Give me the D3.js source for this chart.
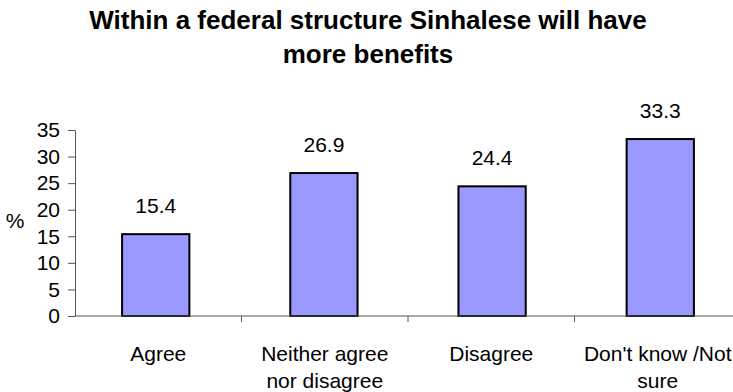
<!DOCTYPE html>
<html>
<head>
<meta charset="utf-8">
<script src="https://cdn.jsdelivr.net/npm/d3@7"></script>
<style>
  html, body { margin: 0; padding: 0; background: #fff; }
  svg { display: block; font-family: Arial, "Liberation Sans", sans-serif; }
</style>
</head>
<body>
<svg id="chart" width="733" height="392"></svg>
<script>
// Survey responses (% of respondents)
const categories = [["Agree"], ["Neither agree", "nor disagree"], ["Disagree"], ["Don't know /Not", "sure"]];
const values = [15.4, 26.9, 24.4, 33.3];
const yTicks = [0, 5, 10, 15, 20, 25, 30, 35];
const titleLines = ["Within a federal structure Sinhalese will have", "more benefits"];

const svg = d3.select("#chart");
const plotLeft = 75, plotRight = 741, plotTop = 130, plotBottom = 316;
const labelSize = "21px";

const x = d3.scaleBand().domain(d3.range(values.length)).range([plotLeft, plotRight]).paddingInner(0.6).paddingOuter(0.28);
const xTickScale = d3.scaleBand().domain(d3.range(values.length)).range([plotLeft, plotRight]);
const y = d3.scaleLinear().domain([0, 35]).range([plotBottom, plotTop]);

// Title
svg.append("text")
  .attr("x", 368).attr("y", 29)
  .attr("text-anchor", "middle")
  .style("font-size", "26px").style("font-weight", "bold")
  .selectAll("tspan").data(titleLines).join("tspan")
  .attr("x", 368).attr("dy", (d, i) => i === 0 ? 0 : 34)
  .text(d => d);

// Bars
svg.append("g").selectAll("rect").data(values).join("rect")
  .attr("x", (d, i) => x(i))
  .attr("y", d => y(d))
  .attr("width", x.bandwidth())
  .attr("height", d => y(0) - y(d))
  .attr("fill", "#9999ff")
  .attr("stroke", "#000")
  .attr("stroke-width", 2);

// Value labels
svg.append("g").selectAll("text").data(values).join("text")
  .attr("x", (d, i) => x(i) + x.bandwidth() / 2)
  .attr("y", d => y(d) - 21)
  .attr("text-anchor", "middle")
  .style("font-size", labelSize)
  .text(d => d.toFixed(1));

// Y axis
const yAxis = svg.append("g").attr("transform", `translate(${plotLeft},0)`)
  .call(d3.axisLeft(y).tickValues(yTicks).tickSize(7).tickSizeOuter(0).tickPadding(8));
yAxis.select(".domain").attr("stroke", "#555");
yAxis.selectAll(".tick line").attr("stroke", "#555");
yAxis.selectAll(".tick text").style("font-size", labelSize)
  .style("font-family", "Arial, 'Liberation Sans', sans-serif").attr("fill", "#000");

// Y axis label
svg.append("text").attr("x", 15).attr("y", 228).attr("text-anchor", "middle")
  .style("font-size", labelSize).text("%");

// X axis line and category boundary ticks
svg.append("line").attr("x1", plotLeft).attr("x2", plotRight).attr("y1", plotBottom).attr("y2", plotBottom)
  .attr("stroke", "#555");
svg.append("g").selectAll("line").data(d3.range(1, values.length)).join("line")
  .attr("x1", i => xTickScale(i)).attr("x2", i => xTickScale(i))
  .attr("y1", plotBottom).attr("y2", plotBottom + 6).attr("stroke", "#555");

// Category labels
svg.append("g").selectAll("text").data(categories).join("text")
  .attr("x", (d, i) => xTickScale(i) + xTickScale.bandwidth() / 2)
  .attr("y", 361)
  .attr("text-anchor", "middle")
  .style("font-size", labelSize)
  .each(function(lines) {
    d3.select(this).selectAll("tspan").data(lines).join("tspan")
      .attr("x", d3.select(this).attr("x"))
      .attr("dy", (d, i) => i === 0 ? 0 : 27)
      .text(d => d);
  });
</script>
</body>
</html>
